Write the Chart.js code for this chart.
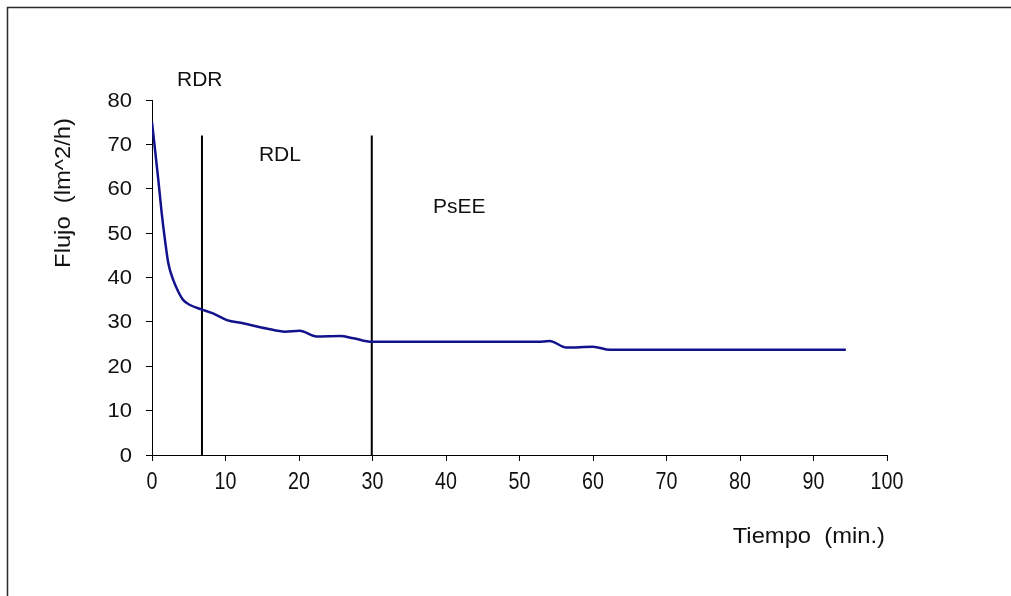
<!DOCTYPE html>
<html>
<head>
<meta charset="utf-8">
<script src="https://cdn.jsdelivr.net/npm/chart.js@4.4.1/dist/chart.umd.min.js"></script>
<style>
  html, body { margin: 0; padding: 0; background: #ffffff; }
  #wrap { width: 1011px; height: 596px; position: relative; }
</style>
</head>
<body>
<div id="wrap"><canvas id="grafico" width="1011" height="596"></canvas></div>
<script>
// Flujo de permeado frente al tiempo
const tiempo = [0, 0.86, 1.32, 1.77, 2.22, 2.9, 3.58, 4.26, 5.17, 6.76, 8.3, 10.2, 12.4, 15.6, 18.1, 20.1, 22.4, 25.6, 27.4, 29.9, 40, 52.5, 54.1, 56.4, 60, 62.3, 94.4];
const flujo  = [75, 62, 54.5, 48.4, 43.2, 39.4, 36.8, 34.9, 33.8, 32.8, 31.9, 30.4, 29.7, 28.5, 27.8, 28.0, 26.7, 26.8, 26.3, 25.5, 25.5, 25.5, 25.7, 24.2, 24.4, 23.7, 23.7];

// Límites entre fases (min) y altura de las líneas divisorias
const limitesFase = [6.8, 29.9];
const alturaLimite = 72;

// Etiquetas de fase con su posición en unidades de los ejes
const fases  = ['RDR', 'RDL', 'PsEE'];
const faseX  = [6.5, 17.4, 41.8];
const faseY  = [84.5, 67.6, 55.9];

// Ejes
const ejeX = { min: 0, max: 100, paso: 10 };
const ejeY = { min: 0, max: 80, paso: 10 };
const tituloX = 'Tiempo  (min.)';
const tituloY = 'Flujo  (lm^2/h)';

const FUENTE = '"Liberation Sans", Arial, Helvetica, sans-serif';

const serie = tiempo.map((t, i) => ({ x: t, y: flujo[i] }));

const divisorias = limitesFase.map(x => ({
  data: [{ x: x, y: 0 }, { x: x, y: alturaLimite }],
  borderColor: '#000000',
  borderWidth: 2,
  pointRadius: 0,
  tension: 0,
  fill: false
}));

function textoEstirado(ctx, texto, x, y, sx, align, baseline) {
  ctx.save();
  ctx.translate(x, y);
  ctx.scale(sx, 1);
  ctx.textAlign = align;
  ctx.textBaseline = baseline;
  ctx.fillText(texto, 0, 0);
  ctx.restore();
}

const rotulos = {
  id: 'rotulos',
  beforeDraw(chart) {
    const ctx = chart.ctx;
    ctx.save();
    ctx.fillStyle = '#ffffff';
    ctx.fillRect(0, 0, chart.width, chart.height);
    // marco exterior
    ctx.strokeStyle = '#2a2a2a';
    ctx.lineWidth = 1.5;
    ctx.beginPath();
    ctx.moveTo(7.5, chart.height);
    ctx.lineTo(7.5, 7.5);
    ctx.lineTo(chart.width, 7.5);
    ctx.stroke();
    ctx.restore();
  },
  afterDraw(chart) {
    const ctx = chart.ctx;
    const xs = chart.scales.x, ys = chart.scales.y;
    const area = chart.chartArea;
    ctx.save();
    ctx.fillStyle = '#111111';

    // etiquetas del eje Y
    ctx.font = '20px ' + FUENTE;
    ys.ticks.forEach(t => {
      textoEstirado(ctx, String(t.value), area.left - 20, ys.getPixelForValue(t.value) + 1, 1.1, 'right', 'middle');
    });

    // etiquetas del eje X
    ctx.font = '24px ' + FUENTE;
    xs.ticks.forEach(t => {
      textoEstirado(ctx, String(t.value), xs.getPixelForValue(t.value), area.bottom + 27, 0.82, 'center', 'middle');
    });

    // títulos de los ejes
    ctx.font = '22px ' + FUENTE;
    textoEstirado(ctx, tituloX, area.right - 2, area.bottom + 82, 1.08, 'right', 'middle');
    ctx.save();
    ctx.translate(area.left - 88, area.top + 93);
    ctx.rotate(-Math.PI / 2);
    textoEstirado(ctx, tituloY, 0, 0, 1.08, 'center', 'middle');
    ctx.restore();

    // nombres de las fases
    ctx.font = '21px ' + FUENTE;
    fases.forEach((f, i) => {
      textoEstirado(ctx, f, xs.getPixelForValue(faseX[i]), ys.getPixelForValue(faseY[i]), 1, 'center', 'middle');
    });
    ctx.restore();
  }
};

new Chart(document.getElementById('grafico'), {
  type: 'line',
  data: {
    datasets: [
      {
        data: serie,
        borderColor: '#12128c',
        borderWidth: 2.5,
        pointRadius: 0,
        tension: 0.4,
        cubicInterpolationMode: 'monotone',
        fill: false
      },
      ...divisorias
    ]
  },
  options: {
    responsive: false,
    devicePixelRatio: 1,
    animation: false,
    layout: { padding: { left: 152, right: 124, top: 100, bottom: 141 } },
    plugins: { legend: { display: false }, tooltip: { enabled: false }, title: { display: false } },
    scales: {
      x: {
        type: 'linear',
        min: ejeX.min,
        max: ejeX.max,
        ticks: { stepSize: ejeX.paso, display: false },
        grid: { drawOnChartArea: false, drawTicks: true, tickLength: 6, color: '#000000', lineWidth: 1 },
        border: { display: true, color: '#000000', width: 1 },
        afterFit(s) { s.height = 0; }
      },
      y: {
        type: 'linear',
        min: ejeY.min,
        max: ejeY.max,
        ticks: { stepSize: ejeY.paso, display: false },
        grid: { drawOnChartArea: false, drawTicks: true, tickLength: 6, color: '#000000', lineWidth: 1 },
        border: { display: true, color: '#000000', width: 1 },
        afterFit(s) { s.width = 0; }
      }
    }
  },
  plugins: [rotulos]
});
</script>
</body>
</html>
